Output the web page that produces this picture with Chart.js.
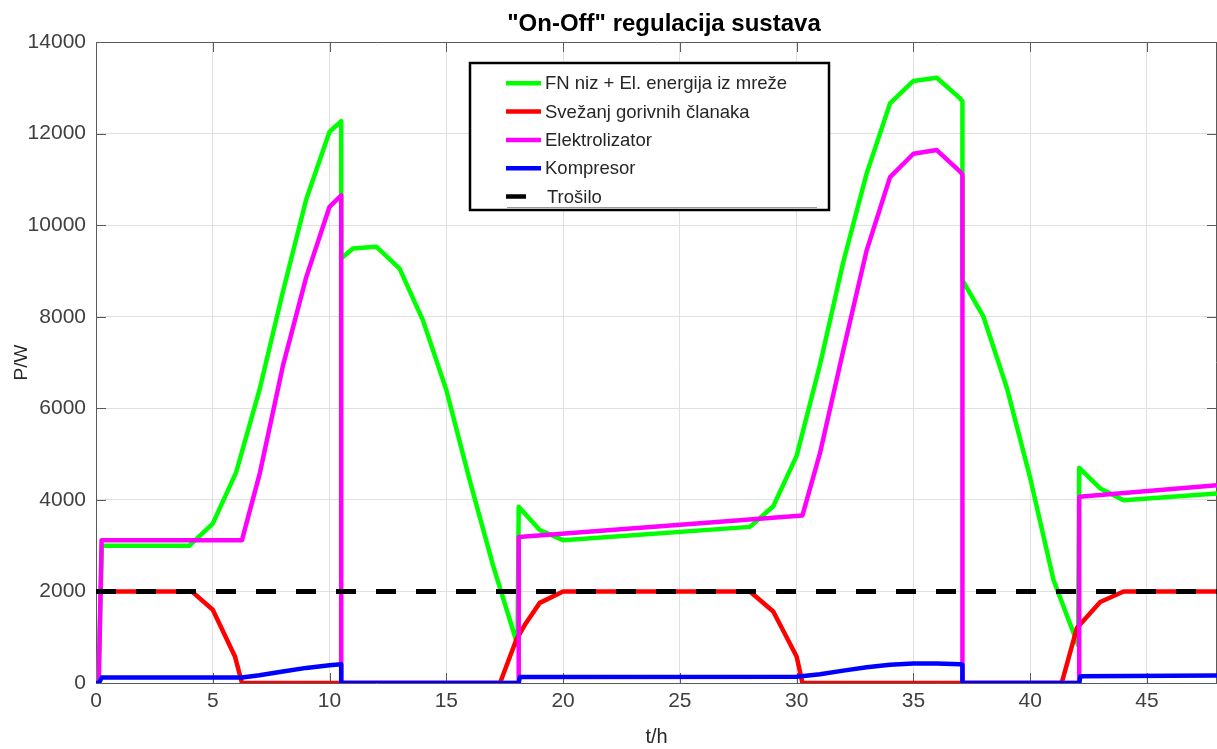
<!DOCTYPE html>
<html>
<head>
<meta charset="utf-8">
<script src="https://cdn.jsdelivr.net/npm/chart.js@4.4.0/dist/chart.umd.min.js"></script>
<style>
  html, body { margin: 0; padding: 0; background: #fff; }
  #okvir { position: relative; width: 1217px; height: 749px; }
</style>
</head>
<body>
<div id="okvir"><canvas id="grafico"></canvas></div>
<script>
// FN niz + El. energija iz mreže
const fnT = [0, 0.1, 0.25, 4, 5, 6, 7, 8, 9, 10, 10.5, 10.5, 11, 12, 13, 14, 15, 16, 17, 18.05, 18.1,
  19, 20, 28, 29, 30, 31, 32, 33, 34, 35, 36, 37, 37.1, 37.1, 38, 39, 40, 41, 42.05, 42.1, 43, 44, 48];
const fnP = [0, 0, 3000, 3000, 3480, 4600, 6400, 8540, 10560, 12040, 12270, 9270, 9490, 9530, 9050, 7920, 6400, 4430, 2570, 830, 3850,
  3340, 3120, 3410, 3860, 4960, 6950, 9200, 11130, 12660, 13150, 13220, 12770, 12700, 8800, 8000, 6450, 4480, 2250, 830, 4700, 4250, 3990, 4140];

// Svežanj gorivnih članaka
const gcT = [0, 4.1, 5, 5.95, 6.25, 17.3, 18, 18.4, 19, 20, 28, 29, 30, 30.25, 41.35, 42, 43, 44, 48];
const gcP = [2000, 2000, 1600, 580, 0, 0, 950, 1300, 1750, 2000, 2000, 1560, 580, 0, 0, 1200, 1770, 2000, 2000];

// Elektrolizator
const elT = [0, 0.12, 0.24, 6.25, 7, 8, 9, 10, 10.5, 10.5, 18.1, 18.1, 30.25, 31, 32, 33, 34, 35, 36, 37, 37.1, 37.1, 42.1, 42.1, 48];
const elP = [0, 0, 3120, 3120, 4550, 6920, 8860, 10400, 10650, 0, 0, 3190, 3660, 5020, 7270, 9450, 11050, 11560, 11640, 11170, 11100, 0, 0, 4070, 4320];

// Kompresor
const kmT = [0, 0.12, 0.25, 6.25, 7, 8, 9, 10, 10.5, 10.5, 18.1, 18.15, 30, 31, 32, 33, 34, 35, 36, 37, 37.1, 37.1, 42.1, 42.15, 48];
const kmP = [0, 0, 120, 120, 170, 250, 330, 390, 410, 0, 0, 130, 135, 190, 270, 345, 400, 425, 425, 410, 400, 0, 0, 150, 165];

// Trošilo
const trT = [0, 48];
const trP = [2000, 2000];

const xTicks = [0, 5, 10, 15, 20, 25, 30, 35, 40, 45];
const yTicks = [0, 2000, 4000, 6000, 8000, 10000, 12000, 14000];

const naslov = '"On-Off" regulacija sustava';
const nazivi = ["FN niz + El. energija iz mreže", "Svežanj gorivnih članaka", "Elektrolizator", "Kompresor", "Trošilo"];

const FONT = '"Liberation Sans", Arial, Helvetica, sans-serif';

function tocke(t, p) {
  return t.map((v, i) => ({ x: v, y: p[i] }));
}

function serija(label, t, p, boja, red, crtkano) {
  return {
    label: label,
    data: tocke(t, p),
    borderColor: boja,
    backgroundColor: boja,
    borderWidth: crtkano ? 5 : 4.5,
    borderDash: crtkano ? [20, 20] : [],
    borderCapStyle: "butt",
    borderJoinStyle: "round",
    pointRadius: 0,
    tension: 0,
    fill: false,
    order: red
  };
}

// okvir i unutarnje crtice kao u MATLAB-u
const okvirPlugin = {
  id: "okvir",
  beforeDatasetsDraw(chart) {
    const { ctx, chartArea: a, scales: { x, y } } = chart;
    ctx.save();
    ctx.strokeStyle = "#5a5a5a";
    ctx.lineWidth = 1;
    ctx.beginPath();
    ctx.moveTo(a.left, a.top + 0.5); ctx.lineTo(a.right, a.top + 0.5);
    ctx.moveTo(a.right - 0.5, a.top); ctx.lineTo(a.right - 0.5, a.bottom);
    xTicks.forEach(v => {
      const px = Math.round(x.getPixelForValue(v)) + 0.5;
      ctx.moveTo(px, a.bottom); ctx.lineTo(px, a.bottom - 10);
      ctx.moveTo(px, a.top); ctx.lineTo(px, a.top + 10);
    });
    yTicks.forEach(v => {
      const py = Math.round(y.getPixelForValue(v)) + 0.5;
      ctx.moveTo(a.left, py); ctx.lineTo(a.left + 10, py);
      ctx.moveTo(a.right, py); ctx.lineTo(a.right - 10, py);
    });
    ctx.stroke();
    ctx.restore();
  }
};

// naslov i legenda
const legendaPlugin = {
  id: "legenda",
  afterDraw(chart) {
    const ctx = chart.ctx;
    ctx.save();
    ctx.font = "bold 24px " + FONT;
    ctx.fillStyle = "#000";
    ctx.textAlign = "center";
    ctx.textBaseline = "alphabetic";
    ctx.fillText(naslov, 664, 31);

    ctx.fillStyle = "#fff";
    ctx.fillRect(470, 63, 359, 147);
    ctx.lineWidth = 2.5;
    ctx.strokeStyle = "#000";
    ctx.strokeRect(470, 63, 359, 147);

    ctx.strokeStyle = "#9a9a9a";
    ctx.lineWidth = 1;
    ctx.beginPath();
    ctx.moveTo(507, 207.5); ctx.lineTo(817, 207.5);
    ctx.stroke();

    ctx.font = "18.5px " + FONT;
    ctx.textAlign = "left";
    ctx.textBaseline = "middle";
    const ds = chart.data.datasets;
    nazivi.forEach((n, i) => {
      const yy = 83.3 + i * 28.3;
      ctx.strokeStyle = ds[i].borderColor;
      ctx.lineWidth = 4.5;
      ctx.beginPath();
      ctx.moveTo(506, yy);
      ctx.lineTo(i === 4 ? 526 : 541, yy);
      ctx.stroke();
      ctx.fillStyle = "#262626";
      ctx.fillText(n, i === 4 ? 547 : 545, yy + 1);
    });
    ctx.restore();
  }
};

new Chart(document.getElementById("grafico"), {
  type: "line",
  data: {
    datasets: [
      serija(nazivi[0], fnT, fnP, "#00ff00", 4, false),
      serija(nazivi[1], gcT, gcP, "#ff0000", 3, false),
      serija(nazivi[2], elT, elP, "#ff00ff", 2, false),
      serija(nazivi[3], kmT, kmP, "#0000ff", 1, false),
      serija(nazivi[4], trT, trP, "#000000", 0, true)
    ]
  },
  options: {
    responsive: true,
    maintainAspectRatio: false,
    animation: false,
    layout: { padding: { top: 42, right: 0, left: 0, bottom: 0 } },
    plugins: {
      legend: { display: false },
      title: { display: false },
      tooltip: { enabled: false }
    },
    scales: {
      x: {
        type: "linear",
        min: 0,
        max: 48,
        afterBuildTicks: s => { s.ticks = xTicks.map(v => ({ value: v })); },
        afterFit: s => { s.height = 66; },
        ticks: { color: "#404040", font: { family: FONT, size: 21 }, padding: 6, maxRotation: 0, callback: v => String(v) },
        grid: { color: "#e0e0e0", drawTicks: false },
        border: { display: true, color: "#5a5a5a" },
        title: { display: true, text: "t/h", color: "#262626", font: { family: FONT, size: 20 }, padding: { top: 0, bottom: 0 } }
      },
      y: {
        min: 0,
        max: 14000,
        afterBuildTicks: s => { s.ticks = yTicks.map(v => ({ value: v })); },
        afterFit: s => { s.width = 96; },
        ticks: { color: "#404040", font: { family: FONT, size: 21 }, padding: 10, callback: v => String(v) },
        grid: { color: "#e0e0e0", drawTicks: false },
        border: { display: true, color: "#5a5a5a" },
        title: { display: true, text: "P/W", color: "#262626", font: { family: FONT, size: 19 }, padding: { top: 10, bottom: 0 } }
      }
    }
  },
  plugins: [okvirPlugin, legendaPlugin]
});
</script>
</body>
</html>
